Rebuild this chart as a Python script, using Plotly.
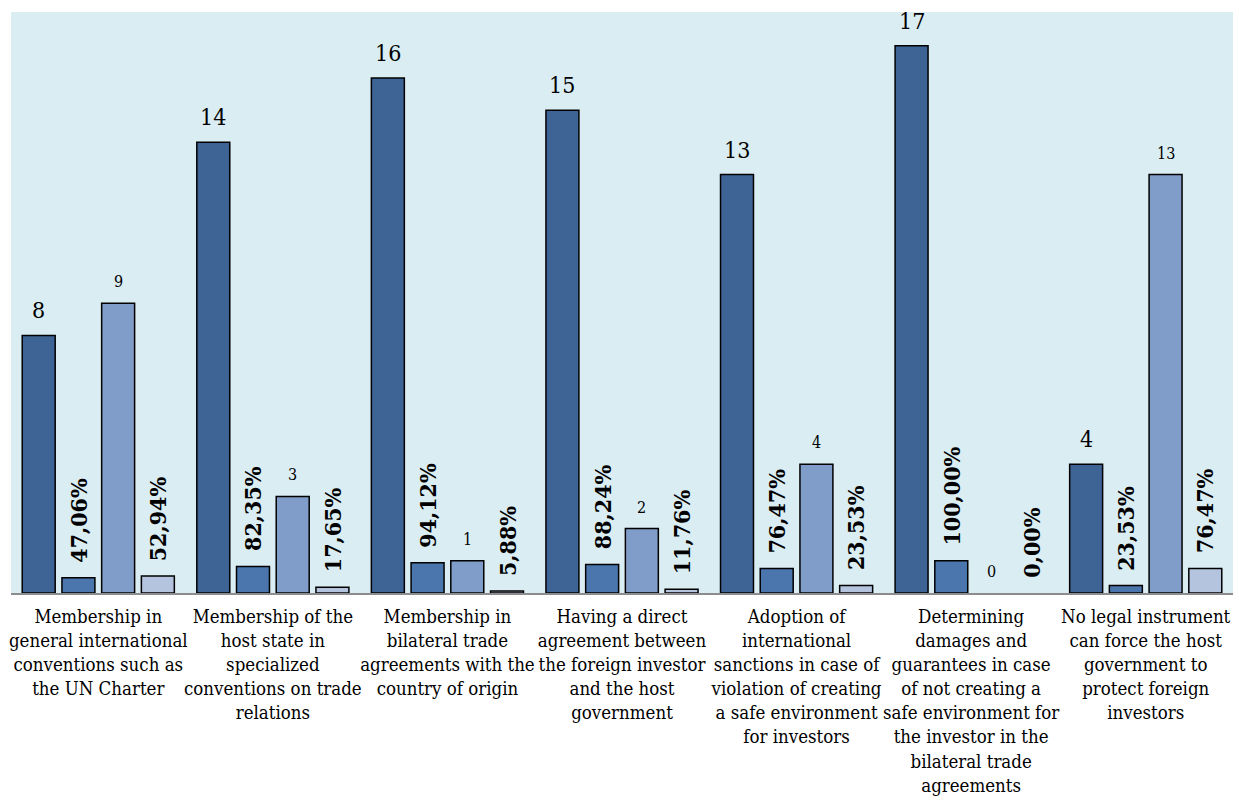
import plotly.graph_objects as go

# Survey results: legal instruments for protecting foreign investors (n = 17)
categories = [
    "Membership in<br>general international<br>conventions such as<br>the UN Charter",
    "Membership of the<br>host state in<br>specialized<br>conventions on trade<br>relations",
    "Membership in<br>bilateral trade<br>agreements with the<br>country of origin",
    "Having a direct<br>agreement between<br>the foreign investor<br>and the host<br>government",
    "Adoption of<br>international<br>sanctions in case of<br>violation of creating<br>a safe environment<br>for investors",
    "Determining<br>damages and<br>guarantees in case<br>of not creating a<br>safe environment for<br>the investor in the<br>bilateral trade<br>agreements",
    "No legal instrument<br>can force the host<br>government to<br>protect foreign<br>investors",
]
yes_counts = [8, 14, 16, 15, 13, 17, 4]
yes_pct = [47.06, 82.35, 94.12, 88.24, 76.47, 100.00, 23.53]
no_counts = [9, 3, 1, 2, 4, 0, 13]
no_pct = [52.94, 17.65, 5.88, 11.76, 23.53, 0.00, 76.47]

FONT = "DejaVu Serif Condensed, DejaVu Serif, serif"
BARGAP = 0.09
N_SERIES = 4

x = list(range(len(categories)))


def pct_text(v):
    return f"{v:.2f}".replace(".", ",") + "%"


series = [
    dict(name="Yes (count)", y=yes_counts, color="#3E6496",
         labels=[str(v) for v in yes_counts], size=23, bold=False, angle=0, shift=10),
    dict(name="Yes (%)", y=[v / 100 for v in yes_pct], color="#4A76AD",
         labels=[pct_text(v) for v in yes_pct], size=23, bold=True, angle=-90, shift=13),
    dict(name="No (count)", y=no_counts, color="#7F9DC8",
         labels=[str(v) for v in no_counts], size=16, bold=False, angle=0, shift=10),
    dict(name="No (%)", y=[v / 100 for v in no_pct], color="#B4C4DE",
         labels=[pct_text(v) for v in no_pct], size=23, bold=True, angle=-90, shift=13),
]

fig = go.Figure()
annotations = []
slot = (1 - BARGAP) / N_SERIES
for k, s in enumerate(series):
    # empty bars get no outline so nothing is drawn on the baseline
    outline = [0 if v == 0 else 1.5 for v in s["y"]]
    fig.add_trace(go.Bar(
        x=x, y=s["y"], name=s["name"],
        marker=dict(color=s["color"], line=dict(color="#000000", width=outline)),
        hoverinfo="y",
    ))
    offset = (k - (N_SERIES - 1) / 2) * slot
    for i, (yv, lab) in enumerate(zip(s["y"], s["labels"])):
        annotations.append(dict(
            x=i + offset, y=yv, xref="x", yref="y",
            text=lab, showarrow=False, textangle=s["angle"],
            xanchor="center", yanchor="bottom", yshift=s["shift"],
            font=dict(family=FONT, size=s["size"], color="#000000",
                      weight="bold" if s["bold"] else "normal"),
        ))

fig.update_layout(
    width=1239, height=802,
    margin=dict(l=11, r=6, t=12, b=205),
    paper_bgcolor="#FFFFFF",
    plot_bgcolor="#DAEDF3",
    barmode="group",
    bargap=BARGAP,
    bargroupgap=0.17,
    showlegend=False,
    annotations=annotations,
    font=dict(family=FONT, color="#000000"),
)
fig.update_xaxes(
    range=[-0.5, len(categories) - 0.5],
    tickmode="array", tickvals=x, ticktext=categories,
    tickangle=0, ticks="", showgrid=False, zeroline=False,
    ticklabeloverflow="allow", ticklabelstandoff=6,
    showline=True, linecolor="#8C8C8C", linewidth=2,
    tickfont=dict(family=FONT, size=18.5, color="#000000"),
)
fig.update_yaxes(
    range=[0, 18.05], showticklabels=False, showgrid=False,
    zeroline=False, ticks="",
)

fig.write_html("out.html")
